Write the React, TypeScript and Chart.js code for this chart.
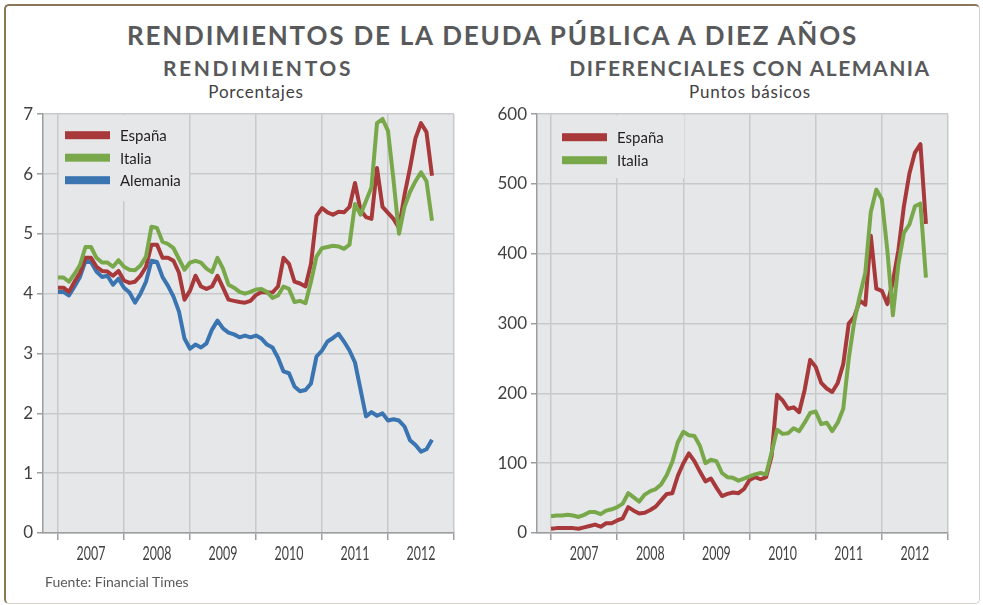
import React, { useEffect, useRef } from "react";
import { Chart, registerables } from "chart.js";

Chart.register(...registerables);

// ---------- data ----------
const FIRST_YEAR = 2007;
const yearLabels = ["2007", "2008", "2009", "2010", "2011", "2012"];
const yieldTicks = [0, 1, 2, 3, 4, 5, 6, 7];
const spreadTicks = [0, 100, 200, 300, 400, 500, 600];

// monthly values, Jan 2007 .. Sep 2012
const espanaYield = [
  4.10, 4.10, 4.03, 4.20, 4.35, 4.60, 4.60, 4.45, 4.38, 4.37, 4.30, 4.38,
  4.22, 4.18, 4.20, 4.30, 4.45, 4.82, 4.82, 4.60, 4.60, 4.55, 4.35, 3.90,
  4.05, 4.30, 4.12, 4.08, 4.12, 4.30, 4.10, 3.90, 3.88, 3.86, 3.85, 3.88,
  3.98, 4.03, 4.02, 4.02, 4.12, 4.60, 4.50, 4.20, 4.17, 4.12, 4.50, 5.30,
  5.43, 5.36, 5.32, 5.37, 5.36, 5.45, 5.85, 5.40, 5.28, 5.25, 6.10, 5.45,
  5.35, 5.25, 5.10, 5.65, 6.10, 6.60, 6.85, 6.70, 5.97,
];
const italiaYield = [
  4.27, 4.27, 4.20, 4.33, 4.48, 4.78, 4.78, 4.60, 4.52, 4.52, 4.45, 4.56,
  4.45, 4.40, 4.39, 4.47, 4.62, 5.12, 5.10, 4.87, 4.83, 4.76, 4.58, 4.40,
  4.52, 4.55, 4.52, 4.42, 4.36, 4.60, 4.42, 4.15, 4.10, 4.03, 4.00, 4.03,
  4.07, 4.08, 4.03, 3.93, 3.97, 4.12, 4.08, 3.86, 3.88, 3.84, 4.20, 4.62,
  4.76, 4.78, 4.80, 4.79, 4.75, 4.82, 5.50, 5.32, 5.55, 5.78, 6.85, 6.92,
  6.72, 5.90, 5.00, 5.45, 5.70, 5.88, 6.03, 5.88, 5.22,
];
const alemaniaYield = [
  4.03, 4.03, 3.97, 4.12, 4.28, 4.55, 4.53, 4.37, 4.28, 4.30, 4.15, 4.25,
  4.10, 4.02, 3.85, 4.00, 4.20, 4.55, 4.53, 4.28, 4.13, 3.95, 3.70, 3.25,
  3.08, 3.15, 3.10, 3.17, 3.40, 3.55, 3.42, 3.35, 3.32, 3.27, 3.30, 3.27,
  3.30, 3.25, 3.15, 3.10, 2.93, 2.70, 2.67, 2.45, 2.37, 2.39, 2.50, 2.95,
  3.05, 3.20, 3.26, 3.33, 3.20, 3.05, 2.85, 2.40, 1.95, 2.02, 1.96, 2.00,
  1.88, 1.90, 1.88, 1.78, 1.55, 1.47, 1.36, 1.40, 1.56,
];
const espanaSpread = [
  6, 7, 7, 7, 7, 6, 8, 10, 12, 9, 14, 14,
  18, 21, 37, 32, 28, 29, 33, 38, 47, 56, 57, 82,
  100, 114, 103, 88, 74, 78, 65, 53, 56, 58, 57, 63,
  76, 80, 77, 80, 110, 198, 190, 178, 180, 173, 205, 248,
  238, 215, 207, 202, 215, 242, 300, 310, 333, 327, 426, 350,
  347, 328, 360, 405, 468, 515, 545, 557, 443,
];
const italiaSpread = [
  24, 25, 25, 26, 25, 23, 26, 30, 30, 27, 32, 34,
  37, 42, 57, 51, 45, 55, 60, 63, 70, 83, 102, 130,
  145, 140, 139, 125, 100, 105, 103, 86, 80, 79, 75, 78,
  81, 84, 86, 84, 115, 148, 142, 143, 150, 146, 158, 172,
  174, 156, 158, 146, 158, 178, 250, 303, 340, 373, 460, 492,
  478, 405, 312, 385, 430, 442, 468, 472, 366,
];

// ---------- styles ----------
const RED = "#a8393b";
const GREEN = "#79a84b";
const BLUE = "#3a74b1";
const PLOT_BG = "#e6e7e9";
const GRID = "#c8c9cb";
const AXIS = "#9c9d9f";
const TITLE = "#58595b";
const LABEL = "#414042";

const yearEdges = [...yearLabels.map(Number), Number(yearLabels[yearLabels.length - 1]) + 1];

function toPoints(values: number[]) {
  return values.map((v, i) => ({ x: FIRST_YEAR + i / 12, y: v }));
}

type Series = { label: string; color: string; values: number[]; order: number };
type LegendCfg = {
  boxLeft: number; boxRight: number; boxBottom: number;
  swatchLeft: number; swatchWidth: number; textLeft: number;
  firstRow: number; rowGap: number;
};
type PanelProps = {
  left: number; top: number; width: number; height: number;
  axisWidth: number; padTop: number; padRight: number; plotHeight: number;
  xMin: number; yMax: number; yTicks: number[];
  series: Series[]; legend: LegendCfg;
};

function Panel(p: PanelProps) {
  const ref = useRef<HTMLCanvasElement | null>(null);
  useEffect(() => {
    const canvas = ref.current;
    if (!canvas) return;

    const bgPlugin = {
      id: "plotBg",
      beforeDraw(chart: any) {
        const { ctx, chartArea: a } = chart;
        ctx.save();
        ctx.fillStyle = PLOT_BG;
        ctx.fillRect(a.left, a.top, a.right - a.left, a.bottom - a.top);
        ctx.restore();
      },
    };

    const legendPlugin = {
      id: "innerLegend",
      beforeDatasetsDraw(chart: any) {
        const { ctx, chartArea: a } = chart;
        const L = p.legend;
        ctx.save();
        ctx.fillStyle = PLOT_BG;
        ctx.fillRect(a.left + L.boxLeft, a.top + 1, L.boxRight - L.boxLeft, L.boxBottom - 1);
        ctx.font = "15px Lato";
        ctx.textBaseline = "middle";
        ctx.textAlign = "left";
        p.series.forEach((s, i) => {
          const y = a.top + L.firstRow + i * L.rowGap;
          ctx.fillStyle = s.color;
          ctx.fillRect(a.left + L.swatchLeft, y - 4, L.swatchWidth, 8);
          ctx.fillStyle = "#231f20";
          ctx.fillText(s.label, a.left + L.textLeft, y + 1);
        });
        ctx.restore();
      },
    };

    const yearPlugin = {
      id: "yearLabels",
      afterDraw(chart: any) {
        const { ctx, chartArea: a } = chart;
        const xs = chart.scales.x;
        ctx.save();
        ctx.fillStyle = LABEL;
        ctx.font = "20px Lato";
        ctx.textAlign = "center";
        ctx.textBaseline = "middle";
        yearLabels.forEach((lab) => {
          const px = xs.getPixelForValue(Number(lab) + 0.5);
          ctx.save();
          ctx.translate(px, a.bottom + 21);
          ctx.scale(0.62, 1);
          ctx.fillText(lab, 0, 0);
          ctx.restore();
        });
        ctx.restore();
      },
    };

    const xHeight = p.height - p.padTop - p.plotHeight;

    const chart = new Chart(canvas, {
      type: "line",
      data: {
        datasets: p.series.map((s) => ({
          label: s.label,
          data: toPoints(s.values),
          borderColor: s.color,
          backgroundColor: s.color,
          borderWidth: 4,
          pointRadius: 0,
          tension: 0,
          fill: false,
          order: s.order,
          borderJoinStyle: "round",
        })),
      },
      options: {
        animation: false,
        responsive: false,
        devicePixelRatio: 1,
        layout: { padding: { left: 0, top: p.padTop, right: p.padRight, bottom: 0 } },
        plugins: {
          legend: { display: false },
          tooltip: { enabled: false },
          title: { display: false },
        },
        scales: {
          x: {
            type: "linear",
            min: p.xMin,
            max: yearEdges[yearEdges.length - 1],
            afterBuildTicks: (s: any) => {
              s.ticks = yearEdges.map((v) => ({ value: v }));
            },
            ticks: { display: false },
            grid: { color: GRID, lineWidth: 1.5, drawTicks: true, tickLength: 7, tickColor: AXIS },
            border: { color: AXIS, width: 1.5 },
            afterFit: (s: any) => {
              s.height = xHeight;
            },
          },
          y: {
            min: 0,
            max: p.yMax,
            afterBuildTicks: (s: any) => {
              s.ticks = p.yTicks.map((v) => ({ value: v }));
            },
            ticks: {
              padding: 4,
              color: LABEL,
              font: { family: "Lato", size: 17 },
            },
            grid: { color: GRID, lineWidth: 1.5, drawTicks: true, tickLength: 6, tickColor: AXIS },
            border: { color: AXIS, width: 1.5 },
            afterFit: (s: any) => {
              s.width = p.axisWidth;
            },
          },
        },
      } as any,
      plugins: [bgPlugin, legendPlugin, yearPlugin],
    });
    return () => chart.destroy();
  }, []);

  return (
    <canvas
      ref={ref}
      width={p.width}
      height={p.height}
      style={{ position: "absolute", left: p.left, top: p.top, width: p.width, height: p.height }}
    />
  );
}

const textBase: React.CSSProperties = {
  position: "absolute",
  textAlign: "center",
  whiteSpace: "nowrap",
  fontFamily: "Lato, sans-serif",
};

export default function App() {
  return (
    <div
      style={{
        position: "fixed",
        left: 0,
        top: 0,
        width: 983,
        height: 605,
        background: "#ffffff",
        overflow: "hidden",
        fontFamily: "Lato, sans-serif",
      }}
    >
      <div
        style={{
          position: "absolute",
          left: 4,
          top: 4,
          width: 976,
          height: 600,
          boxSizing: "border-box",
          borderTop: "2px solid #8c7658",
          borderLeft: "2px solid #8c7658",
          borderRight: "1px solid #d6d2ca",
          borderBottom: "1px solid #d6d2ca",
          borderRadius: 5,
        }}
      />
      <div
        style={{
          ...textBase,
          left: 0,
          width: 985,
          top: 20,
          lineHeight: "30px",
          fontSize: 26,
          fontWeight: 700,
          letterSpacing: 1.8,
          color: TITLE,
        }}
      >
        RENDIMIENTOS DE LA DEUDA PÚBLICA A DIEZ AÑOS
      </div>
      <div
        style={{ ...textBase, left: 58, width: 400, top: 55, lineHeight: "26px", fontSize: 21, fontWeight: 700, letterSpacing: 2.6, color: TITLE }}
      >
        RENDIMIENTOS
      </div>
      <div
        style={{ ...textBase, left: 550, width: 400, top: 55, lineHeight: "26px", fontSize: 21, fontWeight: 700, letterSpacing: 1.5, color: TITLE }}
      >
        DIFERENCIALES CON ALEMANIA
      </div>
      <div style={{ ...textBase, left: 106, width: 300, top: 81, lineHeight: "22px", fontSize: 17, letterSpacing: 0.8, color: LABEL }}>
        Porcentajes
      </div>
      <div style={{ ...textBase, left: 600, width: 300, top: 81, lineHeight: "22px", fontSize: 17, letterSpacing: 0.8, color: LABEL }}>
        Puntos básicos
      </div>

      <Panel
        left={0}
        top={100}
        width={475}
        height={480}
        axisWidth={43}
        padTop={13}
        padRight={21}
        plotHeight={420}
        xMin={2006.773}
        yMax={7}
        yTicks={yieldTicks}
        series={[
          { label: "España", color: RED, values: espanaYield, order: 1 },
          { label: "Italia", color: GREEN, values: italiaYield, order: 0 },
          { label: "Alemania", color: BLUE, values: alemaniaYield, order: 2 },
        ]}
        legend={{ boxLeft: 16, boxRight: 146, boxBottom: 87, swatchLeft: 22, swatchWidth: 45, textLeft: 77, firstRow: 21, rowGap: 22.5 }}
      />
      <Panel
        left={490}
        top={100}
        width={475}
        height={480}
        axisWidth={47}
        padTop={13}
        padRight={17}
        plotHeight={420}
        xMin={2006.788}
        yMax={600}
        yTicks={spreadTicks}
        series={[
          { label: "España", color: RED, values: espanaSpread, order: 1 },
          { label: "Italia", color: GREEN, values: italiaSpread, order: 0 },
        ]}
        legend={{ boxLeft: 15, boxRight: 147, boxBottom: 64, swatchLeft: 25, swatchWidth: 45, textLeft: 80, firstRow: 23, rowGap: 23 }}
      />

      <div
        style={{ position: "absolute", left: 45, top: 573, lineHeight: "18px", fontSize: 14, color: TITLE, fontFamily: "Lato, sans-serif", whiteSpace: "nowrap" }}
      >
        Fuente: Financial Times
      </div>
    </div>
  );
}
